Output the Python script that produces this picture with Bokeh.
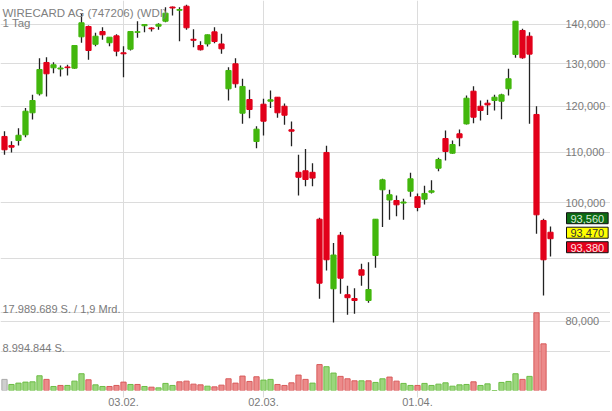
import math
from bokeh.plotting import figure
from bokeh.models import (Range1d, FixedTicker, NumeralTickFormatter, Label, Grid,
                          ColumnDataSource, LinearScale)
from bokeh.embed import file_html
from bokeh.resources import INLINE

# ---------------- data ----------------
title_text = "WIRECARD AG (747206) (WDI)"
period_text = "1 Tag"
date_ticks = [17, 37, 59]
date_labels = ["03.02.", "02.03.", "01.04."]
price_ticks = [80000, 90000, 100000, 110000, 120000, 130000, 140000]
hidden_price_labels = [90000]
quote_prices = [93560, 93470, 93380]
turnover_text = "1,9 Mrd."

opens = [113350, 111440, 112490, 113700, 118520, 122840, 130320, 129020, 128730, 129220,
         128930, 136780, 139470, 134860, 138160, 135260, 137040, 132720, 133630, 137950,
         139660, 139080, 139550, 140870, 144690, 143800, 144910, 136150, 134560, 134960,
         138070, 134960, 124010, 130000, 118430, 121530, 112280, 120460, 121140, 122060,
         120000, 114790, 105940, 106240, 105940, 96970, 109980, 85050, 94090, 84100,
         83500, 88150, 83190, 90560, 102500, 100550, 100450, 99970, 102230, 101180,
         100700, 102030, 106760, 112910, 109830, 113920, 116070, 123450, 120000, 120690,
         121300, 121140, 124010, 132310, 138430, 136940, 118150, 96740, 94620]
highs = [114480, 112340, 115130, 119620, 122600, 131380, 131630, 130400, 129590, 129760,
         134600, 142840, 139740, 137830, 139290, 136700, 137470, 134360, 138200, 140870,
         140100, 139290, 140340, 144630, 144830, 144630, 145300, 138750, 135660, 137350,
         139290, 137560, 129160, 131380, 126380, 123780, 115580, 121690, 123620, 122100,
         120620, 116590, 109500, 110710, 107750, 97230, 111380, 92720, 94680, 85530,
         85140, 89150, 89420, 97000, 104650, 102500, 101400, 100780, 105850, 101800,
         103290, 104380, 108880, 114630, 112490, 114850, 122440, 124620, 121300, 121470,
         122600, 122840, 128780, 140900, 138860, 137970, 120000, 97060, 95640]
lows = [109500, 109950, 111440, 113200, 117040, 122440, 122210, 127710, 126930, 127170,
        128780, 135260, 130980, 134360, 136020, 134360, 131860, 126760, 133300, 136540,
        137970, 138160, 138600, 140610, 142390, 135660, 138600, 134100, 133300, 134290,
        135140, 132470, 121300, 124250, 116090, 117330, 110880, 113560, 119620, 117420,
        115870, 111290, 101400, 103190, 103190, 83460, 88030, 79800, 84240, 80980,
        81130, 85530, 82830, 88480, 95560, 96860, 97530, 96880, 101150, 98450,
        99700, 101800, 106140, 108330, 109700, 111290, 115920, 116220, 116810, 118030,
        119040, 117100, 122440, 131480, 131230, 116090, 94340, 83960, 90390]
closes = [110540, 111080, 113610, 118880, 121300, 128610, 127570, 129760, 128970, 129050,
          134560, 140450, 133300, 136940, 137300, 136680, 133130, 132470, 138160, 138100,
          140000, 138870, 140050, 143010, 144420, 144010, 139130, 135890, 133480, 137300,
          135580, 133720, 128370, 125190, 124560, 119260, 114920, 116660, 121460, 118520,
          117980, 114480, 104950, 104510, 104790, 85950, 89830, 90640, 86760, 83630,
          83190, 87260, 84930, 96970, 104450, 101550, 99640, 100170, 104650, 99140,
          101800, 102310, 108530, 110180, 111640, 113060, 121830, 117540, 119040, 120300,
          122060, 122600, 126380, 140870, 131480, 132390, 97780, 89830, 93470]
volumes = [2570000, 1400000, 1710000, 1940000, 2010000, 3410000, 2570000, 930000, 1170000, 1170000,
           2170000, 3880000, 2480000, 1310000, 930000, 930000, 1170000, 1940000, 1400000, 1400000,
           930000, 770000, 610000, 1640000, 1170000, 2010000, 2170000, 1470000, 1310000, 1000000,
           840000, 1240000, 2710000, 1710000, 3340000, 2100000, 3180000, 2410000, 2570000, 1400000,
           1170000, 1780000, 3570000, 2570000, 1710000, 6000000, 5510000, 4040000, 3270000, 2710000,
           2240000, 2240000, 2240000, 1870000, 2710000, 3110000, 2170000, 1640000, 1170000, 1170000,
           1640000, 1170000, 1470000, 1780000, 1000000, 1310000, 1400000, 2010000, 1170000, 1540000,
           0, 1870000, 2100000, 3880000, 2570000, 3270000, 17989689, 10800000, float("nan")]

# ---------------- layout constants ----------------
FRAME_W, FRAME_H = 610, 390
X0, X_AXIS, X_END = -0.571, 79.857, 86.571
FONT = "Liberation Sans"
GRID = "#dcdcdc"
TXT = "#7a7a7a"

n = len(closes)
xs = list(range(n))
up = [c >= o for o, c in zip(opens, closes)]
ccol = ["#43b70d" if u else "#e2001a" for u in up]
vfill, vline = [], []
for i in range(n):
    if i == 0:
        vfill.append("#cfcfcf"); vline.append("#a9a9a9")
    elif closes[i] >= closes[i - 1]:
        vfill.append("#9ad67c"); vline.append("#6cbd45")
    else:
        vfill.append("#ec8a8a"); vline.append("#d85a5a")

src = ColumnDataSource(dict(
    x=xs, o=opens, h=highs, l=lows, c=closes, v=volumes,
    btop=[max(a, b) for a, b in zip(opens, closes)],
    bbot=[min(a, b) for a, b in zip(opens, closes)],
    ccol=ccol, vfill=vfill, vline=vline))

vmax = max(v for v in volumes if not math.isnan(v))

p = figure(frame_width=FRAME_W, frame_height=FRAME_H, output_backend="svg",
           toolbar_location=None, y_axis_type="log", y_axis_location="right",
           x_range=Range1d(X0, X_END), y_range=Range1d(70202, 146480),
           min_border_left=0, min_border_top=0, min_border_right=0, min_border_bottom=0)
p.title = None
p.outline_line_color = None
p.background_fill_color = "white"
p.border_fill_color = "white"

p.extra_y_ranges = {"vol": Range1d(0, vmax * 5.02)}
p.extra_y_scales = {"vol": LinearScale()}

# grids
p.xgrid.ticker = FixedTicker(ticks=date_ticks)
p.xgrid.grid_line_color = GRID
p.ygrid.ticker = FixedTicker(ticks=price_ticks)
p.ygrid.grid_line_color = GRID
p.ygrid.minor_grid_line_color = None
p.ygrid.bounds = (X0, X_AXIS)
p.add_layout(Grid(dimension=1, y_range_name="vol",
                  ticker=FixedTicker(ticks=[vmax / 2, vmax]),
                  bounds=(X0, X_AXIS), grid_line_color=GRID))

# volume bars
p.vbar(x="x", top="v", bottom=0, width=0.75, fill_color="vfill", line_color="vline",
       line_width=1, y_range_name="vol", source=src)

# candles
p.segment(x0="x", y0="h", x1="x", y1="l", line_color="#222222", line_width=1.3, source=src)
p.vbar(x="x", top="btop", bottom="bbot", width=0.74, fill_color="ccol", line_color="ccol",
       line_width=1, source=src)

# axes
ya = p.yaxis[0]
ya.fixed_location = X_AXIS
ya.ticker = FixedTicker(ticks=[t for t in price_ticks if t not in hidden_price_labels])
ya.formatter = NumeralTickFormatter(format="0,0")
ya.axis_line_color = None
ya.major_tick_line_color = None
ya.minor_tick_line_color = None
ya.major_tick_out = 0
ya.major_tick_in = 0
ya.major_label_standoff = 2
ya.major_label_text_font = FONT
ya.major_label_text_font_size = "11px"
ya.major_label_text_color = TXT

xa = p.xaxis[0]
xa.ticker = FixedTicker(ticks=date_ticks)
xa.major_label_overrides = {t: s for t, s in zip(date_ticks, date_labels)}
xa.axis_line_color = None
xa.major_tick_line_color = GRID
xa.major_tick_out = 7
xa.major_tick_in = 0
xa.minor_tick_line_color = None
xa.axis_label_standoff = 0
xa.major_label_standoff = 0
xa.major_label_text_font = FONT
xa.major_label_text_font_size = "11px"
xa.major_label_text_color = TXT

# texts
p.add_layout(Label(x=2, y=FRAME_H - 12, x_units="screen", y_units="screen", text=title_text,
                   text_font=FONT, text_font_size="11.5px", text_color="#808080",
                   text_baseline="alphabetic"))
p.add_layout(Label(x=2, y=FRAME_H - 22, x_units="screen", y_units="screen", text=period_text,
                   text_font=FONT, text_font_size="11.5px", text_color="#808080",
                   text_baseline="alphabetic"))

vmax_txt = f"{int(vmax):,}".replace(",", ".")
vhalf_txt = f"{int(vmax // 2):,}".replace(",", ".")
p.add_layout(Label(x=2, x_units="screen", y=vmax, y_range_name="vol", y_offset=4,
                   text=f"{vmax_txt} S. / {turnover_text}", text_font=FONT,
                   text_font_size="11px", text_color=TXT, text_baseline="alphabetic"))
p.add_layout(Label(x=2, x_units="screen", y=vmax / 2, y_range_name="vol", y_offset=4,
                   text=f"{vhalf_txt} S.", text_font=FONT,
                   text_font_size="11px", text_color=TXT, text_baseline="alphabetic"))

box_styles = [("#0d6b14", "#d9ecd9"), ("#ffff00", "#333333"), ("#e3001b", "#ffe2e2")]
row_offsets = [20.5, 6, -8.5]
for q, (bg, fg), dy in zip(quote_prices, box_styles, row_offsets):
    p.add_layout(Label(x=566, x_units="screen", y=closes[-1], y_offset=dy,
                       text=f"{q:,}", text_font=FONT, text_font_size="11px",
                       text_color=fg, text_baseline="middle", text_align="left",
                       background_fill_color=bg, border_line_color="#111111",
                       border_line_width=1,
                       padding=dict(left=4, right=4, top=2, bottom=1)))

open("out.html", "w").write(file_html(p, INLINE))
